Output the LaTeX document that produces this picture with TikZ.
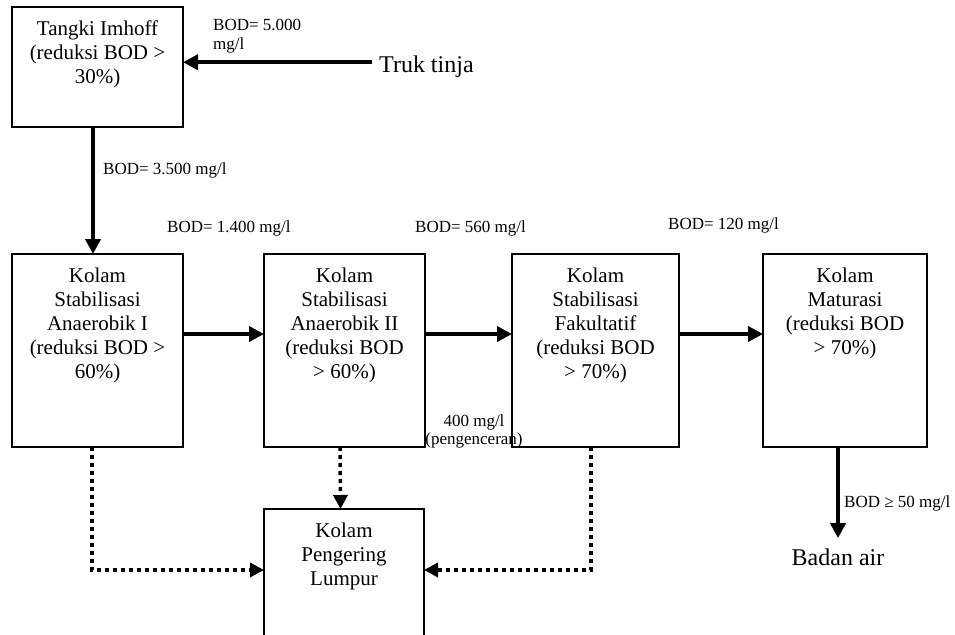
\documentclass[tikz,border=0pt]{standalone}
\usepackage{fontspec}
\setmainfont{Liberation Serif}
\usetikzlibrary{arrows.meta}
\begin{document}
\begin{tikzpicture}[x=1pt,y=-1pt,
  box/.style={draw, line width=1.2pt, rectangle, anchor=north west,
    minimum height=193pt, inner sep=0pt, outer sep=0pt},
  boxtext/.style={anchor=north, yshift=-13.7pt, inner sep=0pt, align=center,
    font=\fontsize{21}{24}\selectfont},
  flow/.style={line width=4.5pt, -{Triangle[length=15pt,width=15pt]}},
  sludge/.style={line width=3.5pt, dash pattern=on 4pt off 4pt,
    -{Triangle[length=14pt,width=14pt]}},
  note/.style={font=\fontsize{17}{18}\selectfont, inner sep=0pt},
  big/.style={font=\fontsize{24}{28}\selectfont, inner sep=0pt}
]
\useasboundingbox (0,0) rectangle (955,634);
\clip (0,0) rectangle (955,634);

% treatment units
\node[box, minimum width=171pt, minimum height=120pt,
  label={[boxtext]north:Tangki Imhoff\\(reduksi BOD >\\30\%)}] (imhoff) at (12,7) {};
\node[box, minimum width=171pt,
  label={[boxtext]north:Kolam\\Stabilisasi\\Anaerobik I\\(reduksi BOD >\\60\%)}] (an1) at (12,254) {};
\node[box, minimum width=161pt,
  label={[boxtext]north:Kolam\\Stabilisasi\\Anaerobik II\\(reduksi BOD\\> 60\%)}] (an2) at (264,254) {};
\node[box, minimum width=167pt,
  label={[boxtext]north:Kolam\\Stabilisasi\\Fakultatif\\(reduksi BOD\\> 70\%)}] (fak) at (512,254) {};
\node[box, minimum width=164pt,
  label={[boxtext]north:Kolam\\Maturasi\\(reduksi BOD\\> 70\%)}] (mat) at (763,254) {};
\node[box, minimum width=160pt, minimum height=140pt,
  label={[boxtext]north:Kolam\\Pengering\\Lumpur}] (dry) at (264,509) {};

% sources and outlet
\node[big, anchor=base west] (truk) at (379,72) {Truk tinja};
\node[big, anchor=base] (badan) at (838,565) {Badan air};

% BOD labels
\node[note, anchor=north west, align=left, font=\fontsize{17}{19}\selectfont]
  (bod0) at (213,19.4) {BOD= 5.000\\mg/l};
\node[note, anchor=base west] (bod1) at (103,174) {BOD= 3.500 mg/l};
\node[note, anchor=base west] (bod2) at (167,232) {BOD= 1.400 mg/l};
\node[note, anchor=base west] (bod3) at (415,232) {BOD= 560 mg/l};
\node[note, anchor=base west] (bod4) at (668,229) {BOD= 120 mg/l};
\node[note, anchor=north, align=center] (dil) at (474,414.5) {400 mg/l\\(pengenceran)};
\node[note, anchor=base west] (bod5) at (844,507) {BOD ≥ 50 mg/l};

% main flow
\draw[flow] ([xshift=-7pt,yshift=4pt]truk.west) -- ([yshift=4pt]truk.west -| imhoff.east);
\draw[flow] ([xshift=-4.5pt]imhoff.south) -- ([xshift=-4.5pt]an1.north);
\draw[flow] ([yshift=16.5pt]an1.east) -- ([yshift=16.5pt]an2.west);
\draw[flow] ([yshift=16.5pt]an2.east) -- ([yshift=16.5pt]fak.west);
\draw[flow] ([yshift=16.5pt]fak.east) -- ([yshift=16.5pt]mat.west);
\draw[flow] ([xshift=-7pt]mat.south) -- ([yshift=10pt]badan.north);

% sludge lines
\draw[sludge] ([xshift=-5.5pt]an1.south) |- ([yshift=-61pt]dry.north west);
\draw[sludge] ([xshift=-4.5pt]an2.south) -- ([xshift=-3.5pt]dry.north);
\draw[sludge] ([xshift=-4.5pt]fak.south) |- ([yshift=-61pt]dry.north east);
\end{tikzpicture}
\end{document}
